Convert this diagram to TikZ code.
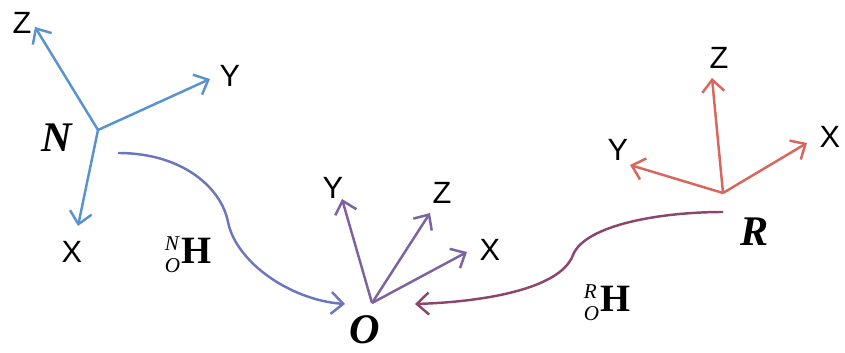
\documentclass[tikz,border=0pt]{standalone}
\usepackage{fontspec}
\setmainfont{Liberation Serif}
\setsansfont{Liberation Sans}
\usetikzlibrary{arrows.meta}
\definecolor{nblue}{RGB}{88,146,208}
\definecolor{opurple}{RGB}{124,98,160}
\definecolor{rred}{RGB}{217,102,92}
\definecolor{ncurve}{RGB}{108,118,190}
\definecolor{rcurve}{RGB}{140,70,110}
\tikzset{
    axis/.style={line width=1.4pt, -{Straight Barb[length=2.4mm, width=4.4mm, line width=1.4pt]}},
    axlabel/.style={font=\sffamily\fontsize{17.5}{17.5}\selectfont, inner sep=0pt},
    frame/.style={font=\bfseries\itshape\fontsize{24}{24}\selectfont, inner sep=0pt},
    hlabel/.style={font=\fontsize{22}{22}\selectfont, inner sep=0pt},
    link/.style={line width=1.4pt, -{Straight Barb[length=2.4mm, width=4.4mm, line width=1.4pt]}}
}
\begin{document}
\begin{tikzpicture}[x=0.2mm, y=-0.2mm]
    \useasboundingbox (0,0) rectangle (845,353);

    % frame N
    \coordinate (oN) at (98,130);
    \coordinate (zN) at (35,27);
    \coordinate (yN) at (210,79);
    \coordinate (xN) at (78,226);
    \node (labzN) [axlabel] at (22,23) {Z};
    \node (labyN) [axlabel] at (230,76) {Y};
    \node (labxN) [axlabel] at (72,252) {X};
    \node (N) [frame] at (57,138) {N};
    \draw [axis, nblue] (oN) -- (zN);
    \draw [axis, nblue] (oN) -- (yN);
    \draw [axis, nblue] (oN) -- (xN);

    % frame O
    \coordinate (oO) at (372,303);
    \coordinate (yO) at (342,199);
    \coordinate (zO) at (430,213);
    \coordinate (xO) at (467,252);
    \node (labyO) [axlabel] at (333,188) {Y};
    \node (labzO) [axlabel] at (442,193) {Z};
    \node (labxO) [axlabel] at (490,250) {X};
    \node (O) [frame] at (365,330) {O};
    \draw [axis, opurple] (oO) -- (yO);
    \draw [axis, opurple] (oO) -- (zO);
    \draw [axis, opurple] (oO) -- (xO);

    % frame R
    \coordinate (oR) at (723,193);
    \coordinate (zR) at (712,78);
    \coordinate (yR) at (630,165);
    \coordinate (xR) at (807,143);
    \node (labzR) [axlabel] at (719,58) {Z};
    \node (labyR) [axlabel] at (618,150) {Y};
    \node (labxR) [axlabel] at (830,137) {X};
    \node (R) [frame] at (755,232) {R};
    \draw [axis, rred] (oR) -- (zR);
    \draw [axis, rred] (oR) -- (yR);
    \draw [axis, rred] (oR) -- (xR);

    % transforms
    \coordinate (fromN) at (118,153);
    \coordinate (toON) at (345,304);
    \coordinate (fromR) at (723,212);
    \coordinate (toOR) at (415,304);
    \draw [link, ncurve] (fromN) .. controls (185,153) and (222,190) .. (228,222)
        .. controls (236,262) and (290,300) .. (toON);
    \draw [link, rcurve] (fromR) .. controls (660,212) and (585,225) .. (573,255)
        .. controls (560,290) and (480,302) .. (toOR);
    \node (hNO) [hlabel] at (188,255) {${}^{\textit{\fontsize{12}{12}\selectfont N}}_{\textit{\fontsize{12}{12}\selectfont O}}$\textbf{H}};
    \node (hRO) [hlabel] at (607,303) {${}^{\textit{\fontsize{12}{12}\selectfont R}}_{\textit{\fontsize{12}{12}\selectfont O}}$\textbf{H}};
\end{tikzpicture}
\end{document}
